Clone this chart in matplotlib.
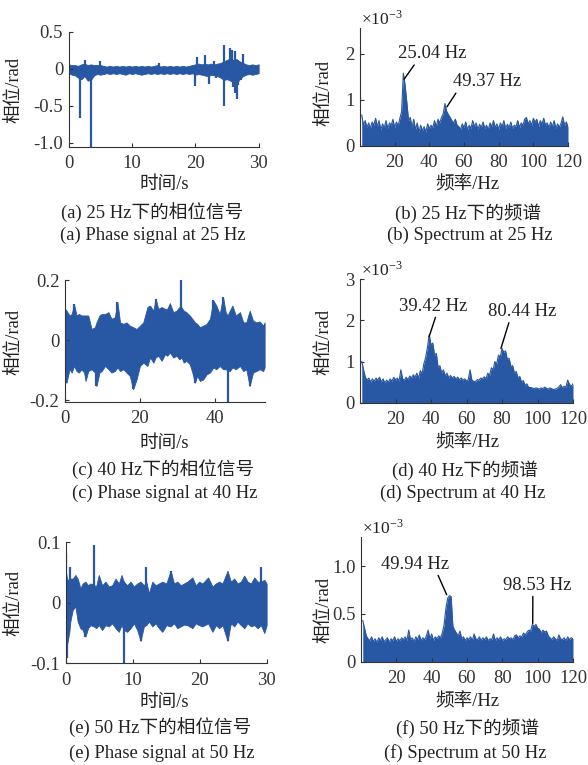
import matplotlib
matplotlib.use('Agg')
import matplotlib.pyplot as plt
import numpy as np

plt.rcParams['font.family'] = ['Liberation Serif', 'Noto Sans CJK SC']
plt.rcParams['mathtext.fontset'] = 'stix'
plt.rcParams['axes.unicode_minus'] = False

# ---- (a) phase signal at 25 Hz: envelope of the dense trace + isolated spikes
t_a = [0.0, 0.5, 1.0, 1.5, 2.0, 2.5, 3.0, 3.5, 4.0, 4.5, 5.0, 5.5, 6.0, 6.5, 7.0, 7.5,
       8.0, 8.5, 9.0, 9.5, 10.0, 10.5, 11.0, 11.5, 12.0, 12.5, 13.0, 13.5, 14.0, 14.5,
       15.0, 15.5, 16.0, 16.5, 17.0, 17.5, 18.0, 18.5, 19.0, 19.5, 20.0, 20.5, 21.0,
       21.5, 22.0, 22.5, 23.0, 23.5, 24.0, 24.5, 25.0, 25.5, 26.0, 26.5, 27.0, 27.5,
       28.0, 28.5, 29.0, 29.5, 30.0]
hi_a = [0.06, 0.05, 0.05, 0.04, 0.06, 0.07, 0.05, 0.06, 0.05, 0.05, 0.05, 0.04, 0.03,
        0.04, 0.03, 0.04, 0.03, 0.04, 0.03, 0.04, 0.03, 0.04, 0.03, 0.04, 0.03, 0.04,
        0.03, 0.04, 0.05, 0.03, 0.04, 0.03, 0.04, 0.03, 0.04, 0.03, 0.04, 0.03, 0.04,
        0.05, 0.06, 0.07, 0.06, 0.07, 0.06, 0.07, 0.06, 0.07, 0.08, 0.10, 0.12, 0.14,
        0.12, 0.13, 0.10, 0.08, 0.06, 0.05, 0.06, 0.05, 0.06]
lo_a = [-0.06, -0.08, -0.09, -0.12, -0.14, -0.10, -0.16, -0.15, -0.09, -0.07, -0.08,
        -0.07, -0.06, -0.07, -0.06, -0.07, -0.06, -0.07, -0.08, -0.06, -0.07, -0.06,
        -0.07, -0.08, -0.07, -0.06, -0.07, -0.06, -0.07, -0.06, -0.07, -0.06, -0.07,
        -0.06, -0.07, -0.06, -0.07, -0.06, -0.07, -0.06, -0.08, -0.07, -0.08, -0.09,
        -0.10, -0.08, -0.09, -0.10, -0.12, -0.15, -0.14, -0.16, -0.18, -0.20, -0.14,
        -0.10, -0.08, -0.07, -0.08, -0.07, -0.06]
spk_t_a = [1.84, 2.6, 3.5, 5.0, 14.2, 20.0, 20.3, 21.5, 22.2, 22.9, 23.3, 24.5, 24.6,
           25.1, 25.5, 25.8, 26.0, 26.2, 26.3, 26.6, 26.8, 27.2, 27.6]
spk_v_a = [-0.66, 0.12, -1.05, 0.11, 0.08, -0.23, 0.16, 0.18, -0.20, 0.10, -0.13, 0.32,
           -0.50, 0.12, 0.28, 0.26, -0.24, 0.24, -0.33, -0.41, -0.22, -0.15, 0.20]

# ---- (c) phase signal at 40 Hz
t_c = [0.0, 0.4, 1.2, 1.8, 2.4, 3.1, 3.7, 4.4, 5.1, 5.5, 6.2, 7.1, 8.0, 8.4, 9.2, 9.8,
       10.7, 11.6, 12.4, 13.3, 14.0, 14.7, 15.6, 16.4, 17.3, 18.2, 19.1, 20.0, 20.9,
       22.0, 22.7, 23.6, 24.2, 24.9, 25.8, 26.7, 27.3, 28.0, 28.9, 29.8, 30.5, 31.1,
       31.7, 32.4, 33.3, 34.0, 34.7, 35.3, 36.0, 36.9, 37.8, 38.7, 39.6, 40.4, 41.3,
       42.2, 42.9, 43.4, 44.0, 44.7, 45.6, 46.7, 47.6, 48.4, 49.3, 50.2, 51.1, 52.0,
       52.9, 53.3]
hi_c = [0.105, 0.099, 0.083, 0.088, 0.12, 0.083, 0.088, 0.083, 0.083, 0.083, 0.083,
        0.038, 0.044, 0.06, 0.083, 0.088, 0.088, 0.094, 0.072, 0.077, 0.127, 0.06, 0.055,
        0.06, 0.049, 0.044, 0.038, 0.049, 0.06, 0.111, 0.116, 0.099, 0.139, 0.105, 0.111,
        0.105, 0.105, 0.124, 0.094, 0.099, 0.111, 0.11, 0.099, 0.094, 0.083, 0.072, 0.06,
        0.055, 0.044, 0.049, 0.055, 0.072, 0.133, 0.116, 0.088, 0.144, 0.094, 0.083,
        0.099, 0.116, 0.083, 0.094, 0.06, 0.06, 0.099, 0.066, 0.06, 0.063, 0.049, 0.06]
lo_c = [-0.13, -0.141, -0.096, -0.107, -0.085, -0.102, -0.107, -0.096, -0.107, -0.135,
        -0.102, -0.096, -0.107, -0.152, -0.107, -0.102, -0.085, -0.096, -0.107, -0.102,
        -0.09, -0.102, -0.096, -0.107, -0.118, -0.163, -0.13, -0.085, -0.074, -0.085,
        -0.057, -0.074, -0.057, -0.051, -0.068, -0.046, -0.051, -0.04, -0.057, -0.051,
        -0.063, -0.057, -0.074, -0.068, -0.079, -0.107, -0.141, -0.118, -0.135, -0.13,
        -0.113, -0.107, -0.09, -0.096, -0.085, -0.096, -0.096, -0.1, -0.102, -0.09,
        -0.096, -0.085, -0.102, -0.096, -0.152, -0.107, -0.102, -0.096, -0.102, -0.09]
spk_t_c = [31.1, 43.4, 14.0, 24.2, 42.2, 39.6, 2.4, 18.2, 8.4, 49.3, 34.7, 0.4]
spk_v_c = [0.20, -0.213, 0.127, 0.139, 0.144, 0.133, 0.12, -0.163, -0.152, -0.152,
           -0.141, -0.141]

# ---- (e) phase signal at 50 Hz
t_e = [0.0, 0.15, 0.5, 0.65, 1.0, 1.4, 1.75, 2.15, 2.5, 2.9, 3.3, 3.65, 4.15, 4.5, 4.9,
       5.4, 5.9, 6.4, 6.9, 7.4, 7.9, 8.3, 8.65, 9.15, 9.65, 10.15, 10.65, 11.15, 11.65,
       12.0, 12.4, 12.9, 13.4, 13.9, 14.4, 15.0, 15.65, 16.15, 16.65, 17.15, 17.65,
       18.15, 18.9, 19.4, 19.9, 20.4, 21.25, 21.9, 22.4, 22.9, 23.4, 24.15, 24.65,
       25.15, 25.65, 26.15, 26.65, 27.15, 27.65, 28.15, 28.65, 29.15, 29.65, 30.0]
hi_e = [0.05, 0.040, 0.035, 0.040, 0.040, 0.046, 0.040, 0.024, 0.032, 0.035, 0.029,
        0.032, 0.030, 0.027, 0.046, 0.029, 0.035, 0.027, 0.029, 0.040, 0.032, 0.046,
        0.035, 0.029, 0.035, 0.027, 0.032, 0.035, 0.029, 0.035, 0.016, 0.035, 0.029,
        0.032, 0.035, 0.032, 0.053, 0.032, 0.035, 0.029, 0.032, 0.035, 0.042, 0.029,
        0.035, 0.032, 0.042, 0.027, 0.032, 0.035, 0.032, 0.053, 0.035, 0.040, 0.032,
        0.035, 0.045, 0.035, 0.032, 0.042, 0.035, 0.035, 0.038, 0.032]
lo_e = [-0.07, -0.070, -0.048, -0.031, -0.012, -0.006, -0.031, -0.042, -0.045, -0.056,
        -0.042, -0.037, -0.039, -0.042, -0.037, -0.045, -0.037, -0.039, -0.034, -0.042,
        -0.048, -0.037, -0.045, -0.048, -0.042, -0.034, -0.045, -0.063, -0.039, -0.037,
        -0.031, -0.039, -0.034, -0.042, -0.048, -0.037, -0.039, -0.034, -0.042, -0.039,
        -0.036, -0.037, -0.042, -0.034, -0.037, -0.039, -0.034, -0.048, -0.037, -0.042,
        -0.037, -0.063, -0.034, -0.039, -0.031, -0.037, -0.042, -0.034, -0.039, -0.037,
        -0.042, -0.037, -0.050, -0.037]
spk_t_e = [0.05, 0.1, 0.65, 4.15, 8.65, 12.0, 29.15, 24.15, 11.15, 2.9, 15.65]
spk_v_e = [0.082, -0.092, 0.059, 0.096, -0.100, 0.059, 0.059, -0.063, -0.063, -0.056,
           0.053]

# ---- spectra (amplitude, x10^-3 rad), 1 Hz bins
freq = np.arange(1, 121)
amp_b = [0.67, 0.45, 0.55, 0.40, 0.50, 0.38, 0.52, 0.45, 0.60, 0.42, 0.55, 0.35, 0.48,
         0.40, 0.55, 0.38, 0.50, 0.45, 0.58, 0.40, 0.52, 0.44, 0.60, 0.75, 1.58, 1.32,
         0.95, 0.55, 0.62, 0.40, 0.58, 0.35, 0.50, 0.30, 0.45, 0.33, 0.42, 0.30, 0.48,
         0.38, 0.45, 0.40, 0.55, 0.42, 0.58, 0.50, 0.62, 0.70, 0.92, 0.75, 0.68, 0.62,
         0.55, 0.50, 0.58, 0.45, 0.42, 0.36, 0.48, 0.40, 0.52, 0.35, 0.45, 0.38, 0.55,
         0.42, 0.50, 0.36, 0.47, 0.40, 0.52, 0.38, 0.45, 0.35, 0.50, 0.42, 0.55, 0.40,
         0.48, 0.36, 0.50, 0.42, 0.55, 0.38, 0.47, 0.40, 0.52, 0.38, 0.45, 0.42, 0.55,
         0.40, 0.50, 0.45, 0.58, 0.62, 0.48, 0.55, 0.45, 0.60, 0.52, 0.58, 0.42, 0.55,
         0.48, 0.60, 0.45, 0.50, 0.40, 0.52, 0.42, 0.55, 0.38, 0.48, 0.40, 0.50, 0.63,
         0.45, 0.52, 0.42]
amp_d = [1.00, 0.80, 0.62, 0.55, 0.60, 0.50, 0.58, 0.52, 0.60, 0.55, 0.62, 0.50, 0.58,
         0.48, 0.55, 0.50, 0.58, 0.52, 0.62, 0.55, 0.60, 0.52, 0.80, 0.58, 0.55, 0.62,
         0.56, 0.65, 0.60, 0.68, 0.62, 0.72, 0.60, 0.78, 0.70, 0.95, 1.10, 1.35, 1.65,
         1.40, 1.45, 1.15, 1.20, 0.85, 0.90, 0.72, 0.80, 0.65, 0.72, 0.60, 0.66, 0.60,
         0.64, 0.58, 0.62, 0.56, 0.60, 0.55, 0.58, 0.53, 0.56, 0.80, 0.55, 0.52, 0.51,
         0.56, 0.55, 0.60, 0.58, 0.63, 0.58, 0.72, 0.66, 0.85, 0.80, 1.00, 0.94, 1.16,
         1.10, 1.32, 1.22, 1.26, 1.05, 1.08, 0.88, 0.90, 0.72, 0.76, 0.60, 0.64, 0.50,
         0.54, 0.42, 0.46, 0.37, 0.37, 0.36, 0.34, 0.36, 0.35, 0.33, 0.36, 0.34, 0.38,
         0.35, 0.33, 0.36, 0.34, 0.32, 0.33, 0.35, 0.38, 0.44, 0.36, 0.40, 0.38, 0.55,
         0.45, 0.40, 0.46]
amp_f = [0.43, 0.35, 0.27, 0.24, 0.22, 0.26, 0.21, 0.24, 0.20, 0.25, 0.22, 0.26, 0.21,
         0.23, 0.25, 0.20, 0.24, 0.22, 0.26, 0.21, 0.24, 0.22, 0.25, 0.23, 0.26, 0.22,
         0.33, 0.23, 0.25, 0.21, 0.26, 0.23, 0.28, 0.22, 0.25, 0.23, 0.27, 0.33, 0.24,
         0.29, 0.22, 0.26, 0.24, 0.27, 0.25, 0.30, 0.38, 0.55, 0.66, 0.69, 0.68, 0.37,
         0.33, 0.30, 0.27, 0.32, 0.24, 0.26, 0.22, 0.25, 0.23, 0.26, 0.22, 0.29, 0.24,
         0.23, 0.26, 0.22, 0.25, 0.23, 0.26, 0.22, 0.24, 0.23, 0.29, 0.22, 0.25, 0.23,
         0.26, 0.22, 0.24, 0.23, 0.26, 0.24, 0.25, 0.23, 0.27, 0.28, 0.25, 0.27, 0.26,
         0.30, 0.28, 0.31, 0.33, 0.32, 0.39, 0.37, 0.39, 0.35, 0.34, 0.30, 0.33, 0.31,
         0.32, 0.27, 0.25, 0.23, 0.26, 0.24, 0.22, 0.28, 0.24, 0.23, 0.25, 0.22, 0.26,
         0.23, 0.25, 0.24]

LINE = '#2857A4'
AXC = '#333333'
FS = 13.4
W, H = 588, 765

fig = plt.figure(figsize=(W / 100, H / 100), dpi=100)


def panel(l, t, r, b):
    ax = fig.add_axes([l / W, 1 - b / H, (r - l) / W, (b - t) / H])
    for s in ['top', 'right']:
        ax.spines[s].set_visible(False)
    for s in ['left', 'bottom']:
        ax.spines[s].set_color(AXC)
        ax.spines[s].set_linewidth(0.8)
    ax.tick_params(direction='in', length=3, width=0.8, colors=AXC, labelsize=FS)
    ax.tick_params(axis='x', pad=6)
    ax.tick_params(axis='y', pad=4)
    return ax


def ptext(x, y, s, **kw):
    fig.text(x / W, 1 - y / H, s, ha='center', va='center', fontsize=FS, color='#222222', **kw)


def phase(ax, t, hi, lo, st, sv):
    ax.fill_between(t, lo, hi, color=LINE, lw=0.6, edgecolor=LINE)
    ax.vlines(st, 0, sv, color=LINE, lw=1.6)


def spectrum(ax, amp):
    ax.fill_between(freq, 0, amp, color=LINE, lw=0)
    ax.plot(freq, amp, color=LINE, lw=0.8)
    ax.set_xlim(0, 120)
    ax.set_xticks([20, 40, 60, 80, 100, 120])
    ax.annotate('×10$^{\\mathregular{-3}}$', xy=(0, 1), xycoords='axes fraction',
                xytext=(1, 0), textcoords='offset points', ha='left', va='bottom',
                fontsize=12.5, color='#222222')


def peak(ax, label, xy, xytext, rx):
    ax.annotate(label, xy=xy, xytext=xytext, ha='center', va='center', fontsize=FS,
                color='#222222',
                arrowprops=dict(arrowstyle='-', color='black', lw=1.0, relpos=(rx, 0),
                                shrinkA=0, shrinkB=0))


# (a)
ax = panel(68.7, 31.7, 259.3, 146.7)
phase(ax, t_a, hi_a, lo_a, spk_t_a, spk_v_a)
ax.set_xlim(0, 30.1)
ax.set_ylim(-1.05, 0.5)
ax.set_xticks([0, 10, 20, 30])
ax.set_yticks([0.5, 0, -0.5, -1.0], ['0.5', '0', '-0.5', '-1.0'])

# (b)
ax = panel(360, 28.3, 568, 146)
spectrum(ax, amp_b)
ax.set_ylim(0, 2.55)
ax.set_yticks([0, 1, 2])
peak(ax, '25.04 Hz', (25.5, 1.45), (41.5, 2.0), 0.27)
peak(ax, '49.37 Hz', (50.2, 0.85), (73.3, 1.39), 0.07)

# (c)
ax = panel(65, 280.3, 265, 402)
phase(ax, t_c, hi_c, lo_c, spk_t_c, spk_v_c)
ax.set_xlim(0, 53.4)
ax.set_ylim(-0.205, 0.2)
ax.set_xticks([0, 20, 40])
ax.set_yticks([0.2, 0, -0.2], ['0.2', '0', '-0.2'])

# (d)
ax = panel(360, 279.3, 573, 402.7)
spectrum(ax, amp_d)
ax.set_ylim(0, 3.0)
ax.set_yticks([0, 1, 2, 3])
peak(ax, '39.42 Hz', (38.9, 1.6), (41.1, 2.35), 0.55)
peak(ax, '80.44 Hz', (79.4, 1.32), (91.3, 2.22), 0.32)

# (e)
ax = panel(66, 542.3, 267.3, 663.3)
phase(ax, t_e, hi_e, lo_e, spk_t_e, spk_v_e)
ax.set_xlim(0, 30.1)
ax.set_ylim(-0.1, 0.1)
ax.set_xticks([0, 10, 20, 30])
ax.set_yticks([0.1, 0, -0.1], ['0.1', '0', '-0.1'])

# (f)
ax = panel(361, 537.3, 573, 661.7)
spectrum(ax, amp_f)
ax.set_ylim(0, 1.3)
ax.set_yticks([0, 0.5, 1.0], ['0', '0.5', '1.0'])
peak(ax, '49.94 Hz', (48.5, 0.70), (30.6, 1.02), 0.82)
peak(ax, '98.53 Hz', (97.2, 0.40), (99.6, 0.80), 0.44)

# axis labels and captions
for y in [90, 342, 603]:
    ptext(15, y, '相位/rad', rotation=90)
for y in [93, 342, 610]:
    ptext(325, y, '相位/rad', rotation=90)
for y in [185, 443, 702]:
    ptext(164, y, '时间/s')
    ptext(467, y, '频率/Hz')

ptext(152, 213, '(a) 25 Hz下的相位信号')
ptext(153, 235, '(a) Phase signal at 25 Hz')
ptext(468, 213, '(b) 25 Hz下的频谱')
ptext(470, 235, '(b) Spectrum at 25 Hz')
ptext(163, 470, '(c) 40 Hz下的相位信号')
ptext(165, 493, '(c) Phase signal at 40 Hz')
ptext(465, 470, '(d) 40 Hz下的频谱')
ptext(463, 493, '(d) Spectrum at 40 Hz')
ptext(160, 728, '(e) 50 Hz下的相位信号')
ptext(162, 753, '(e) Phase signal at 50 Hz')
ptext(468, 728, '(f) 50 Hz下的频谱')
ptext(465, 753, '(f) Spectrum at 50 Hz')

fig.savefig('out.png', dpi=100, facecolor='white')
